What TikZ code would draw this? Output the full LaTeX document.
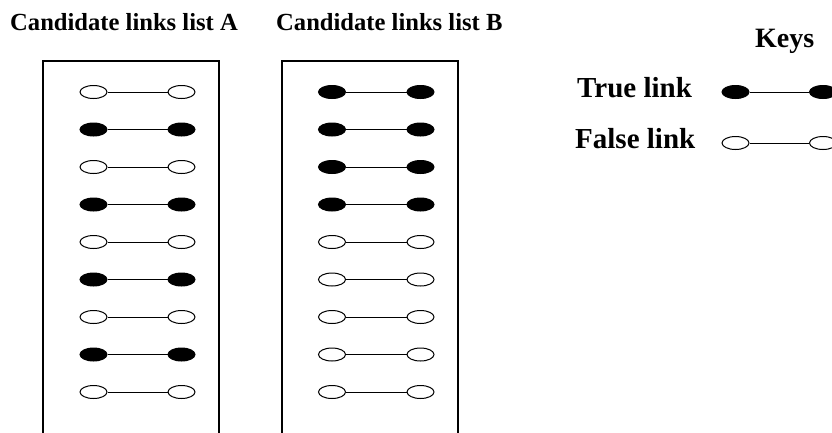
\documentclass[tikz,border=0pt]{standalone}
\usepackage{fontspec}
\setmainfont{Liberation Serif}
\usetikzlibrary{shapes.geometric}

\tikzset{
  linkend/.style={ellipse, draw, line width=1pt, minimum width=27pt, minimum height=13pt, inner sep=0pt},
  truelink/.style={linkend, fill=black},
  falselink/.style={linkend, fill=white},
  linkline/.style={line width=1pt},
  listbox/.style={line width=1.3pt},
  heading/.style={anchor=base west, inner sep=0pt, font=\bfseries\fontsize{24.6}{30}\selectfont},
  keylabel/.style={anchor=base west, inner sep=0pt, font=\bfseries\fontsize{29}{34}\selectfont}
}

\begin{document}
\begin{tikzpicture}[x=1pt, y=-1pt]
  \useasboundingbox (0,0) rectangle (832,432);
  \clip (0,0) rectangle (832,432);

  % titles
  \node[heading] (titleA) at (10,30) {Candidate links list A};
  \node[heading] (titleB) at (276,30) {Candidate links list B};
  \node[keylabel, font=\bfseries\fontsize{28}{33}\selectfont] (keys) at (755,47) {Keys};

  % the two lists, open at the bottom
  \draw[listbox] (43,445) rectangle (219,61);
  \draw[listbox] (282,445) rectangle (458,61);
  \foreach \kindA/\kindB [count=\i] in {falselink/truelink, truelink/truelink,
      falselink/truelink, truelink/truelink, falselink/falselink, truelink/falselink,
      falselink/falselink, truelink/falselink, falselink/falselink} {
    \pgfmathsetmacro{\rowy}{92+37.5*(\i-1)}
    \node[\kindA] (a-\i-l) at (93.5,\rowy) {};
    \node[\kindA] (a-\i-r) at (181.5,\rowy) {};
    \draw[linkline] (a-\i-l) -- (a-\i-r);
    \node[\kindB] (b-\i-l) at (332,\rowy) {};
    \node[\kindB] (b-\i-r) at (420.5,\rowy) {};
    \draw[linkline] (b-\i-l) -- (b-\i-r);
  }

  % keys
  \node[keylabel] (truetxt) at (577,97) {True link};
  \node[truelink] (truel) at (735.5,92) {};
  \node[truelink] (truer) at (823,92) {};
  \draw[linkline] (truel) -- (truer);
  \node[keylabel] (falsetxt) at (575,148) {False link};
  \node[falselink] (falsel) at (735.5,143) {};
  \node[falselink] (falser) at (823,143) {};
  \draw[linkline] (falsel) -- (falser);
\end{tikzpicture}
\end{document}
